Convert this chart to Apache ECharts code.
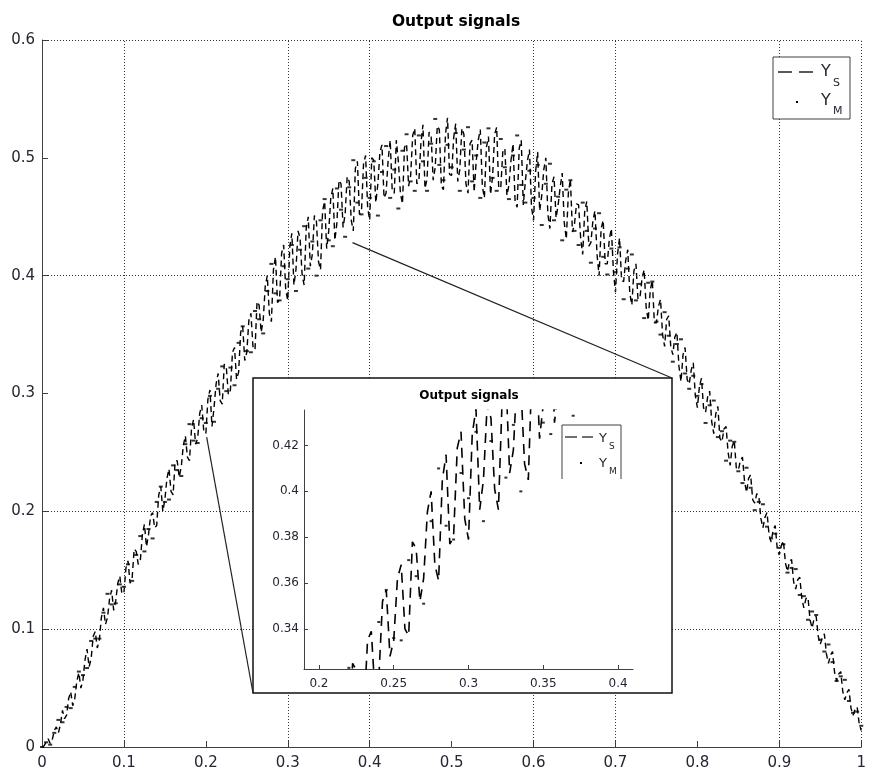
<!DOCTYPE html>
<html><head><meta charset="utf-8">
<script src="https://cdn.jsdelivr.net/npm/echarts@6/dist/echarts.min.js"></script>
<style>html,body{margin:0;padding:0;background:#fff}#c{width:869px;height:774px}</style>
</head><body><div id="c"></div>
<script>
const xValues = [
0,0.005,0.01,0.015,0.02,0.025,0.03,0.035,0.04,0.045,0.05,0.055,0.06,0.065,0.07,0.075,0.08,0.085,0.09,0.095,
0.1,0.105,0.11,0.115,0.12,0.125,0.13,0.135,0.14,0.145,0.15,0.155,0.16,0.165,0.17,0.175,0.18,0.185,0.19,0.195,
0.2,0.205,0.21,0.215,0.22,0.225,0.23,0.235,0.24,0.245,0.25,0.255,0.26,0.265,0.27,0.275,0.28,0.285,0.29,0.295,
0.3,0.305,0.31,0.315,0.32,0.325,0.33,0.335,0.34,0.345,0.35,0.355,0.36,0.365,0.37,0.375,0.38,0.385,0.39,0.395,
0.4,0.405,0.41,0.415,0.42,0.425,0.43,0.435,0.44,0.445,0.45,0.455,0.46,0.465,0.47,0.475,0.48,0.485,0.49,0.495,
0.5,0.505,0.51,0.515,0.52,0.525,0.53,0.535,0.54,0.545,0.55,0.555,0.56,0.565,0.57,0.575,0.58,0.585,0.59,0.595,
0.6,0.605,0.61,0.615,0.62,0.625,0.63,0.635,0.64,0.645,0.65,0.655,0.66,0.665,0.67,0.675,0.68,0.685,0.69,0.695,
0.7,0.705,0.71,0.715,0.72,0.725,0.73,0.735,0.74,0.745,0.75,0.755,0.76,0.765,0.77,0.775,0.78,0.785,0.79,0.795,
0.8,0.805,0.81,0.815,0.82,0.825,0.83,0.835,0.84,0.845,0.85,0.855,0.86,0.865,0.87,0.875,0.88,0.885,0.89,0.895,
0.9,0.905,0.91,0.915,0.92,0.925,0.93,0.935,0.94,0.945,0.95,0.955,0.96,0.965,0.97,0.975,0.98,0.985,0.99,0.995,
1];
const xMidValues = [
0.0025,0.0075,0.0125,0.0175,0.0225,0.0275,0.0325,0.0375,0.0425,0.0475,0.0525,0.0575,0.0625,0.0675,0.0725,0.0775,0.0825,0.0875,0.0925,0.0975,
0.1025,0.1075,0.1125,0.1175,0.1225,0.1275,0.1325,0.1375,0.1425,0.1475,0.1525,0.1575,0.1625,0.1675,0.1725,0.1775,0.1825,0.1875,0.1925,0.1975,
0.2025,0.2075,0.2125,0.2175,0.2225,0.2275,0.2325,0.2375,0.2425,0.2475,0.2525,0.2575,0.2625,0.2675,0.2725,0.2775,0.2825,0.2875,0.2925,0.2975,
0.3025,0.3075,0.3125,0.3175,0.3225,0.3275,0.3325,0.3375,0.3425,0.3475,0.3525,0.3575,0.3625,0.3675,0.3725,0.3775,0.3825,0.3875,0.3925,0.3975,
0.4025,0.4075,0.4125,0.4175,0.4225,0.4275,0.4325,0.4375,0.4425,0.4475,0.4525,0.4575,0.4625,0.4675,0.4725,0.4775,0.4825,0.4875,0.4925,0.4975,
0.5025,0.5075,0.5125,0.5175,0.5225,0.5275,0.5325,0.5375,0.5425,0.5475,0.5525,0.5575,0.5625,0.5675,0.5725,0.5775,0.5825,0.5875,0.5925,0.5975,
0.6025,0.6075,0.6125,0.6175,0.6225,0.6275,0.6325,0.6375,0.6425,0.6475,0.6525,0.6575,0.6625,0.6675,0.6725,0.6775,0.6825,0.6875,0.6925,0.6975,
0.7025,0.7075,0.7125,0.7175,0.7225,0.7275,0.7325,0.7375,0.7425,0.7475,0.7525,0.7575,0.7625,0.7675,0.7725,0.7775,0.7825,0.7875,0.7925,0.7975,
0.8025,0.8075,0.8125,0.8175,0.8225,0.8275,0.8325,0.8375,0.8425,0.8475,0.8525,0.8575,0.8625,0.8675,0.8725,0.8775,0.8825,0.8875,0.8925,0.8975,
0.9025,0.9075,0.9125,0.9175,0.9225,0.9275,0.9325,0.9375,0.9425,0.9475,0.9525,0.9575,0.9625,0.9675,0.9725,0.9775,0.9825,0.9875,0.9925,0.9975];
const ysValues = [
0.000,0.004,0.003,0.014,0.012,0.031,0.027,0.047,0.041,0.063,0.057,0.083,0.075,0.098,0.091,0.118,0.110,0.133,0.124,0.145,
0.131,0.158,0.143,0.166,0.158,0.189,0.180,0.199,0.188,0.221,0.210,0.236,0.214,0.243,0.238,0.264,0.243,0.278,0.262,0.290,
0.266,0.303,0.288,0.317,0.291,0.322,0.303,0.339,0.318,0.357,0.335,0.368,0.337,0.375,0.362,0.400,0.361,0.416,0.380,0.426,
0.379,0.436,0.405,0.432,0.392,0.450,0.418,0.446,0.405,0.463,0.438,0.474,0.445,0.478,0.452,0.480,0.438,0.497,0.455,0.502,
0.447,0.498,0.478,0.511,0.470,0.515,0.470,0.497,0.461,0.512,0.485,0.525,0.480,0.528,0.482,0.518,0.492,0.524,0.473,0.534,
0.485,0.529,0.490,0.520,0.470,0.515,0.497,0.524,0.466,0.518,0.484,0.526,0.475,0.508,0.477,0.512,0.458,0.515,0.480,0.507,
0.447,0.505,0.468,0.500,0.440,0.484,0.460,0.487,0.431,0.482,0.444,0.460,0.418,0.463,0.428,0.455,0.400,0.447,0.410,0.440,
0.386,0.432,0.395,0.422,0.375,0.410,0.382,0.405,0.362,0.396,0.360,0.380,0.340,0.366,0.333,0.352,0.310,0.339,0.308,0.326,
0.288,0.313,0.284,0.302,0.266,0.289,0.259,0.272,0.239,0.260,0.235,0.246,0.216,0.231,0.207,0.213,0.186,0.199,0.174,0.188,
0.163,0.175,0.149,0.159,0.134,0.144,0.118,0.127,0.101,0.111,0.087,0.096,0.071,0.081,0.056,0.064,0.040,0.049,0.027,0.034,
0.014];
const ysMidValues = [
0.001,0.007,0.006,0.017,0.019,0.024,0.041,0.035,0.056,0.050,0.074,0.068,0.094,0.084,0.110,0.104,0.126,0.116,0.139,0.130,
0.152,0.139,0.168,0.155,0.180,0.170,0.196,0.186,0.214,0.200,0.228,0.217,0.242,0.229,0.256,0.246,0.270,0.257,0.283,0.268,
0.295,0.272,0.308,0.294,0.325,0.299,0.335,0.312,0.352,0.328,0.362,0.340,0.378,0.352,0.391,0.368,0.405,0.377,0.419,0.388,
0.425,0.392,0.438,0.401,0.440,0.408,0.451,0.412,0.455,0.423,0.466,0.430,0.481,0.441,0.484,0.447,0.491,0.452,0.495,0.458,
0.500,0.462,0.505,0.466,0.498,0.472,0.515,0.470,0.509,0.476,0.519,0.478,0.512,0.474,0.522,0.481,0.527,0.476,0.520,0.486,
0.517,0.480,0.525,0.478,0.512,0.471,0.515,0.476,0.509,0.469,0.520,0.474,0.505,0.468,0.498,0.463,0.508,0.460,0.497,0.458,
0.488,0.455,0.490,0.452,0.478,0.449,0.475,0.445,0.470,0.437,0.461,0.432,0.455,0.425,0.447,0.418,0.440,0.410,0.431,0.404,
0.418,0.396,0.413,0.385,0.404,0.380,0.398,0.373,0.388,0.360,0.374,0.350,0.363,0.340,0.348,0.323,0.333,0.312,0.320,0.298,
0.306,0.288,0.297,0.276,0.283,0.262,0.270,0.250,0.255,0.237,0.243,0.226,0.228,0.210,0.215,0.194,0.195,0.180,0.184,0.168,
0.171,0.156,0.158,0.140,0.142,0.126,0.126,0.108,0.109,0.094,0.093,0.079,0.078,0.063,0.062,0.047,0.046,0.033,0.032,0.020];
const ymValues = [
0.000,0.004,0.002,0.012,0.023,0.021,0.034,0.033,0.051,0.064,0.061,0.067,0.090,0.092,0.092,0.114,0.130,0.121,0.122,0.138,
0.136,0.155,0.141,0.163,0.179,0.166,0.185,0.177,0.208,0.221,0.208,0.210,0.239,0.235,0.230,0.257,0.274,0.260,0.258,0.279,
0.275,0.298,0.276,0.304,0.323,0.302,0.322,0.307,0.343,0.357,0.336,0.335,0.370,0.363,0.351,0.387,0.410,0.385,0.379,0.408,
0.397,0.426,0.387,0.422,0.442,0.406,0.429,0.400,0.447,0.465,0.430,0.425,0.474,0.456,0.433,0.475,0.498,0.462,0.452,0.483,
0.466,0.497,0.451,0.488,0.510,0.466,0.490,0.457,0.506,0.520,0.480,0.472,0.519,0.497,0.472,0.512,0.533,0.494,0.481,0.511,
0.492,0.521,0.472,0.507,0.526,0.480,0.502,0.466,0.513,0.525,0.483,0.472,0.516,0.492,0.465,0.502,0.519,0.477,0.462,0.489,
0.466,0.494,0.443,0.478,0.495,0.447,0.467,0.430,0.473,0.481,0.438,0.426,0.462,0.438,0.411,0.440,0.453,0.416,0.401,0.423,
0.403,0.424,0.380,0.406,0.418,0.379,0.393,0.364,0.394,0.395,0.361,0.350,0.369,0.349,0.327,0.342,0.346,0.317,0.304,0.315,
0.298,0.308,0.275,0.290,0.294,0.263,0.268,0.243,0.260,0.259,0.234,0.224,0.237,0.220,0.201,0.208,0.206,0.187,0.177,0.181,
0.169,0.172,0.148,0.152,0.151,0.129,0.128,0.108,0.115,0.112,0.091,0.081,0.087,0.072,0.056,0.060,0.057,0.039,0.029,0.030,
0.018];
const mainGridX = [0.1,0.3,0.4,0.6,0.7,0.9,1.0];
const mainGridY = [0.1,0.2,0.4,0.6];
const insetGridX = [0.2];
const insetGridY = [0.34,0.36,0.38,0.4];
const insetXTicks = [0.2,0.25,0.3,0.35,0.4];
const insetYTicks = [0.34,0.36,0.38,0.4,0.42];
const zoomAnchors = [[0.379,0.428],[0.201,0.263]];
const titleText = 'Output signals';
const legendNames = [['Y','S'],['Y','M']];

// Ys line: full-step and half-step samples merged in x order
const ysData = [];
xValues.forEach((x,i)=>{
  ysData.push([x, ysValues[i]]);
  if (i < xMidValues.length) ysData.push([xMidValues[i], ysMidValues[i]]);
});
const ymData = xValues.map((x,i)=>[x, ymValues[i]]);

const FONT = '"DejaVu Sans", Verdana, sans-serif';
const TXT = '#262633';
const AX = '#404040';
const BOX = {x:253, y:378, w:419, h:315};

function gridMarks(xs, ys){
  return {
    silent:true, symbol:['none','none'], label:{show:false}, animation:false,
    emphasis:{disabled:true},
    lineStyle:{type:[1,2], color:'#333', width:1},
    data: xs.map(v=>({xAxis:v})).concat(ys.map(v=>({yAxis:v})))
  };
}
function axisCommon(fs, margin, zl){
  return {
    type:'value', zlevel:zl,
    axisLine:{show:true, onZero:false, lineStyle:{color:AX, width:1}},
    axisTick:{show:true, inside:true, length:6, lineStyle:{color:AX}},
    axisLabel:{color:TXT, fontSize:fs, fontFamily:FONT, margin:margin},
    splitLine:{show:false}
  };
}

const chart = echarts.init(document.getElementById('c'));
const xMain = Object.assign(axisCommon(15,9,0),{gridIndex:0,min:0,max:1,interval:0.1});
const yMain = Object.assign(axisCommon(15,7,0),{gridIndex:0,min:0,max:0.6,interval:0.1});
const xIn = Object.assign(axisCommon(12,9,1),{gridIndex:1,min:0.19,max:0.41});
xIn.axisLabel.customValues = insetXTicks; xIn.axisTick.customValues = insetXTicks; xIn.axisTick.length=4;
const yIn = Object.assign(axisCommon(12,5,1),{gridIndex:1,min:0.3225,max:0.4355});
yIn.axisLabel.customValues = insetYTicks; yIn.axisTick.customValues = insetYTicks; yIn.axisTick.length=4;

const graphics = [
  {type:'text', id:'t1', zlevel:0, z:10, style:{text:titleText, x:456, y:22, align:'center', verticalAlign:'middle', fill:'#000', font:'bold 15.5px '+FONT}},
  {type:'rect', id:'boxbg', zlevel:1, z:-5, shape:{x:BOX.x,y:BOX.y,width:BOX.w,height:BOX.h}, style:{fill:'#fff', stroke:'#111', lineWidth:1.5}},
  {type:'text', id:'t2', zlevel:1, z:10, style:{text:titleText, x:469, y:396, align:'center', verticalAlign:'middle', fill:'#000', font:'bold 12px '+FONT}},
  {type:'rect', id:'lg1', zlevel:1, z:20, shape:{x:773,y:57,width:77,height:62}, style:{fill:'#fff', stroke:AX, lineWidth:1}},
  {type:'line', id:'lg1a', zlevel:1, z:21, shape:{x1:778,y1:72,x2:792,y2:72}, style:{stroke:'#222', lineWidth:1.5}},
  {type:'line', id:'lg1b', zlevel:1, z:21, shape:{x1:799,y1:72,x2:813,y2:72}, style:{stroke:'#222', lineWidth:1.5}},
  {type:'text', id:'lg1c', zlevel:1, z:21, style:{text:legendNames[0][0], x:821, y:72, verticalAlign:'middle', fill:TXT, font:'16px '+FONT}},
  {type:'text', id:'lg1d', zlevel:1, z:21, style:{text:legendNames[0][1], x:833, y:83, verticalAlign:'middle', fill:TXT, font:'11px '+FONT}},
  {type:'rect', id:'lg1e', zlevel:1, z:21, shape:{x:796,y:101,width:2,height:2}, style:{fill:'#000'}},
  {type:'text', id:'lg1f', zlevel:1, z:21, style:{text:legendNames[1][0], x:821, y:101, verticalAlign:'middle', fill:TXT, font:'16px '+FONT}},
  {type:'text', id:'lg1g', zlevel:1, z:21, style:{text:legendNames[1][1], x:833, y:111, verticalAlign:'middle', fill:TXT, font:'11px '+FONT}},
  {type:'rect', id:'lg2', zlevel:1, z:20, shape:{x:562,y:425,width:59,height:54}, style:{fill:'#fff'}},
  {type:'polyline', id:'lg2b', zlevel:1, z:21, shape:{points:[[562,479],[562,425],[621,425],[621,479]]}, style:{stroke:AX, lineWidth:1, fill:null}},
  {type:'line', id:'lg2c', zlevel:1, z:21, shape:{x1:565,y1:437,x2:577,y2:437}, style:{stroke:'#222', lineWidth:1.3}},
  {type:'line', id:'lg2d', zlevel:1, z:21, shape:{x1:582,y1:437,x2:593,y2:437}, style:{stroke:'#222', lineWidth:1.3}},
  {type:'text', id:'lg2e', zlevel:1, z:21, style:{text:legendNames[0][0], x:599, y:439, verticalAlign:'middle', fill:TXT, font:'13px '+FONT}},
  {type:'text', id:'lg2f', zlevel:1, z:21, style:{text:legendNames[0][1], x:609, y:447, verticalAlign:'middle', fill:TXT, font:'9px '+FONT}},
  {type:'rect', id:'lg2g', zlevel:1, z:21, shape:{x:580,y:462,width:2,height:2}, style:{fill:'#000'}},
  {type:'text', id:'lg2h', zlevel:1, z:21, style:{text:legendNames[1][0], x:599, y:464, verticalAlign:'middle', fill:TXT, font:'13px '+FONT}},
  {type:'text', id:'lg2i', zlevel:1, z:21, style:{text:legendNames[1][1], x:609, y:472, verticalAlign:'middle', fill:TXT, font:'9px '+FONT}}
];

chart.setOption({
  animation:false,
  backgroundColor:'#fff',
  grid:[
    {left:42, top:40, width:825, height:707},
    {left:304, top:410, width:329, height:259, zlevel:1}
  ],
  xAxis:[xMain, xIn],
  yAxis:[yMain, yIn],
  graphic:{elements:graphics},
  series:[
    {name:'Ys', type:'line', xAxisIndex:0, yAxisIndex:0, data:ysData, showSymbol:false, symbol:'none', silent:true, zlevel:0, z:3,
     lineStyle:{color:'#000', width:1.4, type:[6,4]}, markLine:gridMarks(mainGridX, mainGridY)},
    {name:'YM', type:'scatter', xAxisIndex:0, yAxisIndex:0, data:ymData, symbol:'rect', symbolSize:[4,2], silent:true, zlevel:0, z:4,
     itemStyle:{color:'#000'}},
    {name:'Ys inset', type:'line', xAxisIndex:1, yAxisIndex:1, data:ysData, showSymbol:false, symbol:'none', silent:true, zlevel:1, z:3, clip:true,
     lineStyle:{color:'#000', width:1.6, type:[10,7]}, markLine:gridMarks(insetGridX, insetGridY)},
    {name:'YM inset', type:'scatter', xAxisIndex:1, yAxisIndex:1, data:ymData, symbol:'rect', symbolSize:[3,2], silent:true, zlevel:1, z:4, clip:true,
     itemStyle:{color:'#000'}}
  ]
});

const p1 = chart.convertToPixel({gridIndex:0}, zoomAnchors[0]);
const p2 = chart.convertToPixel({gridIndex:0}, zoomAnchors[1]);
chart.setOption({graphic:{elements:[
  {type:'line', id:'cn1', zlevel:1, z:5, shape:{x1:p1[0],y1:p1[1],x2:BOX.x+BOX.w,y2:BOX.y}, style:{stroke:'#222', lineWidth:1.2}},
  {type:'line', id:'cn2', zlevel:1, z:5, shape:{x1:p2[0],y1:p2[1],x2:BOX.x,y2:BOX.y+BOX.h}, style:{stroke:'#222', lineWidth:1.2}}
]}});
</script></body></html>
